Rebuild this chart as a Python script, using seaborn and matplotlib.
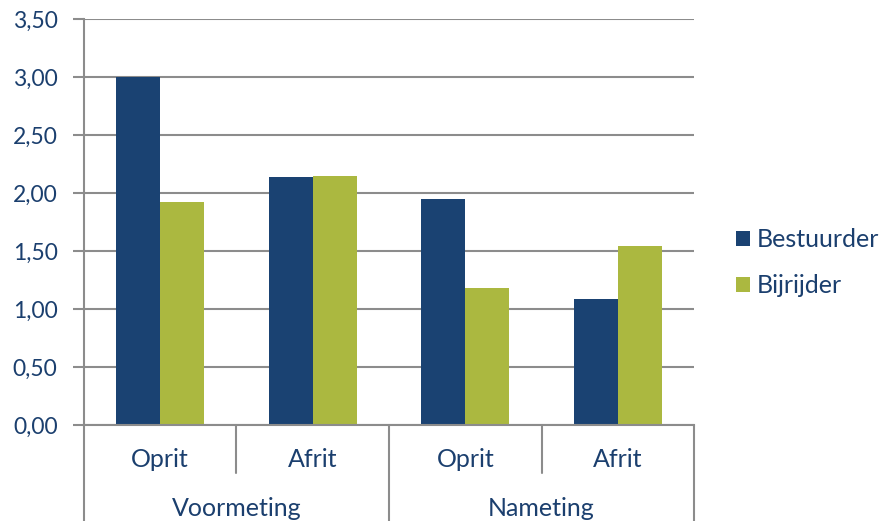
import matplotlib
matplotlib.use("Agg")
import matplotlib.pyplot as plt
import matplotlib.transforms as mtransforms
from matplotlib.lines import Line2D
import seaborn as sns
import pandas as pd

# Data
groups = ["Voormeting", "Voormeting", "Nameting", "Nameting"]
subcats = ["Oprit", "Afrit", "Oprit", "Afrit"]
series_names = ["Bestuurder", "Bijrijder"]
bestuurder = [3.00, 2.14, 1.95, 1.09]
bijrijder = [1.92, 2.15, 1.18, 1.54]
yticks = [0.0, 0.5, 1.0, 1.5, 2.0, 2.5, 3.0, 3.5]

navy = "#1A4272"
green = "#ABB840"
text_color = "#1B3F6E"
grid_color = "#8C8C8C"

keys = [f"{g}|{s}" for g, s in zip(groups, subcats)]
rows = []
for k, b, r in zip(keys, bestuurder, bijrijder):
    rows.append({"cat": k, "serie": series_names[0], "value": b})
    rows.append({"cat": k, "serie": series_names[1], "value": r})
df = pd.DataFrame(rows)

sns.set_theme(style="white")
plt.rcParams['font.family'] = ['Lato', 'DejaVu Sans']

fig = plt.figure(figsize=(8.83, 5.21), dpi=100)
ax = fig.add_axes([0.0951, 0.184, 0.786 - 0.0951, 0.9635 - 0.184])

sns.barplot(data=df, x="cat", y="value", hue="serie", order=keys,
            hue_order=series_names, palette=[navy, green], width=0.577,
            saturation=1, ax=ax, legend=True, linewidth=0)

ax.set_ylim(0, 3.5)
ax.set_xlim(-0.5, len(keys) - 0.5)
ax.set_yticks(yticks)
ax.set_yticklabels([f"{v:.2f}".replace(".", ",") for v in yticks],
                   fontsize=16.5, color=text_color)
ax.yaxis.grid(True, color=grid_color, linewidth=1.5)
ax.set_axisbelow(True)
ax.tick_params(axis="y", length=8, width=1.5, color=grid_color, pad=11, left=True)
ax.set_xticks([])
ax.set_xlabel("")
ax.set_ylabel("")
for side in ["top", "right"]:
    ax.spines[side].set_visible(False)
ax.spines["left"].set_color(grid_color)
ax.spines["left"].set_linewidth(1.5)
ax.spines["bottom"].set_color(grid_color)
ax.spines["bottom"].set_linewidth(1.5)

# Multi-level category axis
trans = mtransforms.blended_transform_factory(ax.transData, ax.transAxes)
ax_h_px = ax.get_position().height * fig.get_figheight() * fig.dpi
def frac(px):
    return -px / ax_h_px

# subcategory labels
for i, s in enumerate(subcats):
    ax.text(i, frac(34), s, transform=trans, ha="center", va="center",
            fontsize=18, color=text_color, clip_on=False)
# group labels
unique_groups = []
for i, g in enumerate(groups):
    if not unique_groups or unique_groups[-1][0] != g:
        unique_groups.append([g, i, i])
    else:
        unique_groups[-1][2] = i
for g, a, b in unique_groups:
    ax.text((a + b) / 2, frac(83), g, transform=trans, ha="center", va="center",
            fontsize=18, color=text_color, clip_on=False)

# separators
group_bounds = set()
for g, a, b in unique_groups:
    group_bounds.add(a - 0.5)
    group_bounds.add(b + 0.5)
for i in range(len(keys) + 1):
    xpos = i - 0.5
    if xpos in group_bounds:
        y0, y1 = 0, frac(110)
    else:
        y0, y1 = 0, frac(48)
    ax.add_line(Line2D([xpos, xpos], [y0, y1], transform=trans,
                       color=grid_color, linewidth=1.5, clip_on=False))

# Legend
leg = ax.legend(loc="center left", bbox_to_anchor=(1.052, 0.40), frameon=False,
                fontsize=18, handlelength=0.55, handleheight=0.55,
                handletextpad=0.3, labelspacing=0.9, borderaxespad=0)
for t in leg.get_texts():
    t.set_color(text_color)

fig.savefig("out.png", dpi=100)
